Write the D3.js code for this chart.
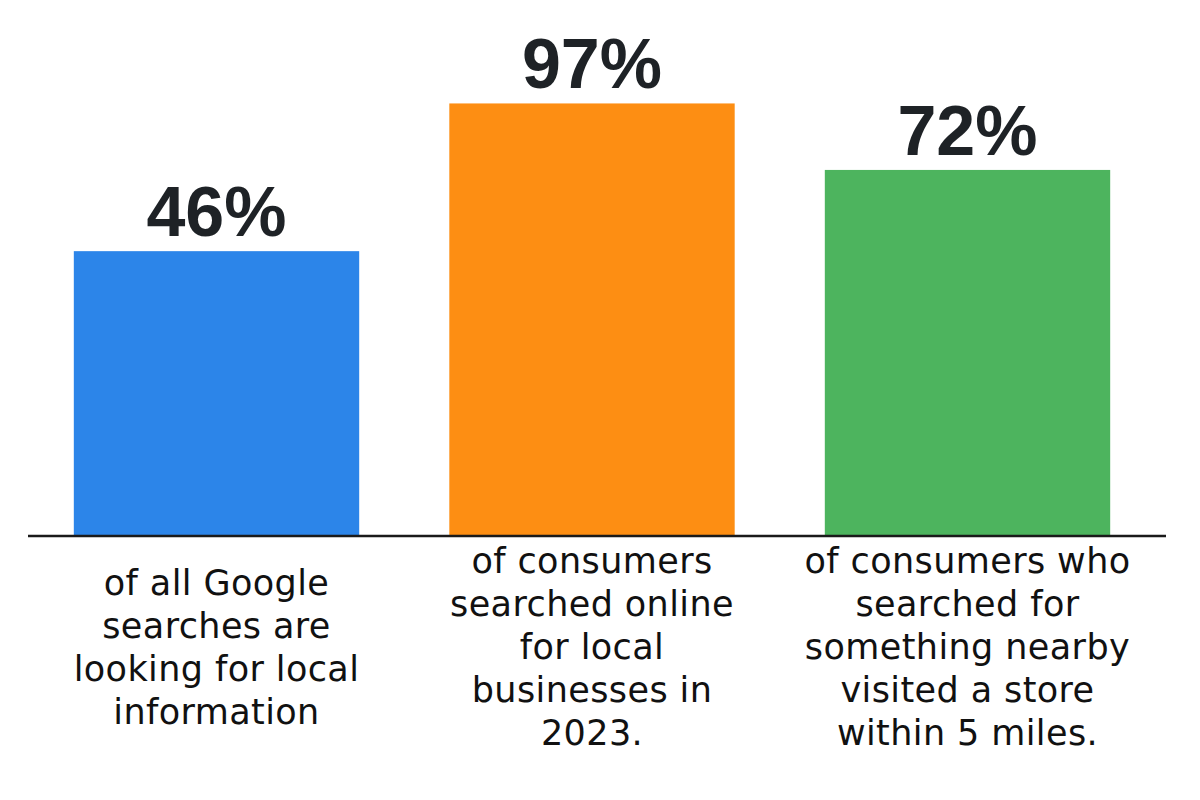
<!DOCTYPE html>
<html>
<head>
<meta charset="utf-8">
<script src="https://cdn.jsdelivr.net/npm/d3@7"></script>
<style>
  body { margin: 0; background: #fff; }
  svg { display: block; }
</style>
</head>
<body>
<svg id="chart" width="1200" height="800"></svg>
<script>
var categories = ['local', 'consumers', 'nearby'];
var values = [46, 97, 72];
var colors = ['#2c85e9', '#fd8e13', '#4db45e'];
var captions = [
    ['of all Google', 'searches are', 'looking for local', 'information'],
    ['of consumers', 'searched online', 'for local', 'businesses in', '2023.'],
    ['of consumers who', 'searched for', 'something nearby', 'visited a store', 'within 5 miles.']
];

var svg = d3.select('#chart');
var baseY = 536;

var x = d3.scaleBand()
    .domain(categories)
    .range([25, 1159])
    .paddingInner(0.24)
    .paddingOuter(0.13);

// bar heights in the picture are not linear in the value
var y = d3.scalePow()
    .exponent(0.56)
    .domain([0, 100])
    .range([baseY, 96]);

svg.selectAll('rect.bar')
    .data(values)
    .enter().append('rect')
    .attr('class', 'bar')
    .attr('x', function(d, i) { return x(categories[i]); })
    .attr('y', function(d) { return y(d); })
    .attr('width', x.bandwidth())
    .attr('height', function(d) { return baseY - y(d); })
    .attr('fill', function(d, i) { return colors[i]; });

svg.selectAll('text.value')
    .data(values)
    .enter().append('text')
    .attr('class', 'value')
    .attr('x', function(d, i) { return x(categories[i]) + x.bandwidth() / 2; })
    .attr('y', function(d) { return y(d) - 15; })
    .attr('text-anchor', 'middle')
    .attr('font-family', '"Liberation Sans", Arial, sans-serif')
    .attr('font-weight', 'bold')
    .attr('font-size', 70)
    .attr('fill', '#1e2226')
    .text(function(d) { return d + '%'; });

svg.append('line')
    .attr('x1', 28)
    .attr('x2', 1166)
    .attr('y1', baseY)
    .attr('y2', baseY)
    .attr('stroke', '#1a1a1a')
    .attr('stroke-width', 2.5);

var lineH = 43;
var midY = 659;

captions.forEach(function(lines, i) {
    var cx = x(categories[i]) + x.bandwidth() / 2;
    var top = midY - (lines.length - 1) * lineH / 2;
    var t = svg.append('text')
        .attr('text-anchor', 'middle')
        .attr('font-family', '"DejaVu Sans", sans-serif')
        .attr('font-size', 35)
        .attr('letter-spacing', 0.4)
        .attr('fill', '#111');
    lines.forEach(function(s, j) {
        t.append('tspan')
            .attr('x', cx)
            .attr('y', top + j * lineH)
            .text(s);
    });
});
</script>
</body>
</html>
